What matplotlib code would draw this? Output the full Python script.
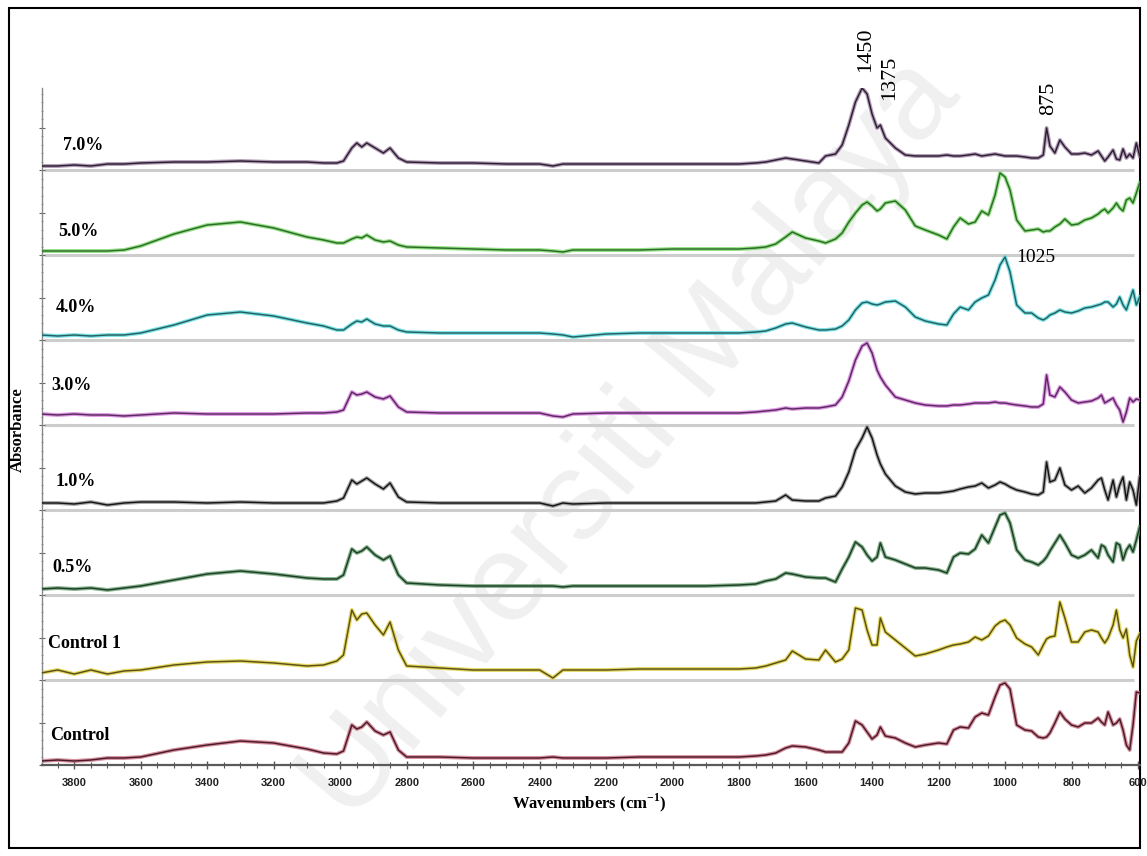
import matplotlib.pyplot as plt
from matplotlib.patches import Rectangle
from matplotlib.ticker import MultipleLocator

plt.rcParams['mathtext.fontset'] = 'custom'
plt.rcParams['mathtext.rm'] = 'Liberation Serif'
plt.rcParams['mathtext.bf'] = 'Liberation Serif:bold'

# FTIR absorbance (a.u.) read on a shared wavenumber grid, cm-1
wavenumber = [3900, 3850, 3800, 3750, 3700, 3650, 3600, 3500, 3400, 3300,
              3200, 3100, 3050, 3010, 2990, 2965, 2950, 2935, 2920, 2895,
              2870, 2850, 2825, 2800, 2700, 2600, 2500, 2400, 2360, 2330,
              2300, 2200, 2100, 2000, 1900, 1800, 1750, 1720, 1690, 1660,
              1640, 1600, 1560, 1540, 1510, 1490, 1470, 1450, 1430, 1415,
              1400, 1385, 1375, 1360, 1330, 1300, 1270, 1240, 1200, 1175,
              1155, 1135, 1110, 1090, 1070, 1050, 1030, 1015, 1000, 985,
              965, 940, 920, 900, 885, 875, 865, 850, 835, 820,
              800, 780, 760, 740, 720, 710, 700, 690, 675, 665,
              655, 645, 635, 625, 615, 605, 595]

control = [4, 5, 4, 5, 7, 7, 8, 15, 20, 24,
           22, 16, 12, 11, 14, 40, 36, 38, 43, 34,
           30, 33, 15, 8, 8, 7, 7, 7, 8, 7,
           7, 7, 8, 8, 8, 8, 9, 10, 12, 17,
           19, 18, 15, 13, 13, 13, 22, 44, 40, 33,
           26, 30, 38, 29, 27, 22, 18, 20, 22, 21,
           35, 38, 37, 48, 52, 50, 68, 80, 82, 76,
           40, 35, 34, 28, 27, 28, 32, 42, 53, 46,
           40, 38, 42, 42, 47, 43, 40, 53, 40, 42,
           46, 35, 20, 15, 40, 73, 72]

control_1 = [7, 10, 6, 10, 6, 9, 10, 15, 18, 19,
             17, 14, 15, 19, 25, 70, 60, 66, 67, 55,
             45, 58, 30, 14, 12, 10, 10, 10, 2, 10,
             10, 10, 11, 11, 11, 11, 12, 14, 17, 20,
             29, 21, 20, 30, 18, 21, 30, 72, 70, 50,
             35, 35, 62, 48, 40, 32, 24, 26, 30, 33,
             35, 36, 38, 43, 40, 44, 54, 58, 60, 55,
             42, 36, 33, 25, 35, 41, 43, 44, 78, 62,
             38, 38, 48, 50, 48, 42, 37, 42, 55, 70,
             50, 42, 51, 25, 13, 39, 46]

pct_0_5 = [6, 7, 6, 7, 5, 7, 9, 15, 21, 24,
           21, 17, 16, 16, 20, 46, 42, 44, 48, 40,
           35, 39, 20, 12, 10, 9, 9, 9, 9, 8,
           9, 9, 9, 9, 9, 10, 11, 14, 16, 22,
           21, 18, 17, 17, 13, 26, 38, 53, 48, 40,
           34, 38, 52, 38, 35, 31, 27, 27, 25, 22,
           38, 42, 41, 46, 60, 52, 68, 80, 82, 72,
           45, 35, 33, 30, 34, 38, 44, 52, 60, 52,
           40, 37, 40, 45, 37, 50, 48, 40, 33, 52,
           50, 35, 45, 50, 43, 55, 68]

pct_1_0 = [7, 7, 6, 8, 5, 7, 8, 8, 7, 8,
           7, 7, 7, 9, 12, 30, 26, 29, 32, 26,
           21, 27, 13, 8, 7, 7, 7, 7, 4, 7,
           6, 7, 7, 7, 7, 7, 7, 8, 9, 15,
           10, 9, 9, 12, 14, 23, 38, 60, 72, 83,
           72, 55, 46, 36, 24, 18, 16, 17, 17, 18,
           19, 21, 23, 24, 27, 22, 25, 28, 26, 23,
           20, 18, 16, 15, 18, 48, 28, 30, 42, 25,
           20, 24, 17, 22, 30, 32, 20, 10, 30, 13,
           25, 33, 10, 28, 20, 5, 33]

pct_3_0 = [11, 10, 11, 10, 10, 9, 10, 12, 11, 11,
           11, 12, 12, 13, 15, 33, 30, 31, 33, 28,
           26, 29, 18, 13, 12, 12, 12, 12, 9, 8,
           11, 12, 12, 12, 12, 12, 13, 14, 15, 17,
           16, 17, 17, 18, 20, 28, 44, 65, 79, 82,
           72, 55, 48, 40, 28, 25, 22, 20, 19, 19,
           20, 20, 21, 22, 22, 22, 23, 22, 22, 21,
           20, 19, 18, 18, 21, 50, 30, 28, 38, 33,
           25, 22, 23, 24, 27, 30, 22, 24, 27, 20,
           15, 3, 13, 27, 23, 26, 25]

pct_4_0 = [5, 4, 5, 4, 5, 5, 7, 15, 25, 28,
           24, 17, 14, 10, 10, 16, 19, 18, 21, 16,
           14, 14, 10, 8, 7, 7, 7, 7, 6, 5,
           3, 6, 7, 7, 7, 7, 8, 9, 12, 16,
           17, 13, 10, 10, 11, 14, 20, 30, 37, 38,
           36, 35, 36, 38, 39, 33, 23, 19, 16, 15,
           26, 33, 30, 38, 42, 45, 60, 75, 83, 68,
           35, 27, 27, 22, 20, 22, 25, 27, 30, 28,
           27, 29, 32, 33, 35, 36, 38, 38, 33, 36,
           43, 35, 30, 40, 50, 35, 43]

pct_5_0 = [4, 4, 4, 4, 4, 5, 9, 21, 30, 33,
           27, 18, 15, 12, 12, 16, 18, 17, 20, 15,
           13, 14, 10, 8, 7, 6, 5, 5, 4, 3,
           5, 5, 5, 6, 6, 6, 7, 8, 11, 18,
           23, 17, 14, 12, 16, 22, 33, 42, 50, 53,
           49, 44, 46, 52, 54, 45, 29, 25, 20, 16,
           28, 37, 31, 33, 44, 40, 60, 82, 78, 65,
           35, 24, 25, 26, 23, 24, 24, 28, 31, 36,
           30, 31, 35, 37, 41, 44, 46, 42, 47, 52,
           47, 44, 55, 57, 52, 62, 72]

pct_7_0 = [4, 4, 5, 4, 6, 6, 7, 8, 8, 9,
           8, 8, 7, 7, 9, 22, 27, 23, 27, 22,
           17, 22, 12, 8, 7, 7, 6, 6, 4, 6,
           6, 6, 6, 6, 6, 6, 7, 8, 10, 12,
           11, 9, 7, 14, 16, 25, 45, 68, 82, 76,
           56, 42, 45, 32, 22, 15, 14, 14, 14, 15,
           14, 14, 15, 16, 14, 15, 16, 15, 14, 14,
           14, 13, 12, 12, 15, 42, 24, 17, 30, 23,
           16, 16, 17, 15, 19, 14, 9, 13, 20, 11,
           10, 21, 12, 16, 12, 27, 14]

# bottom to top
spectra = [control, control_1, pct_0_5, pct_1_0, pct_3_0, pct_4_0, pct_5_0, pct_7_0]
names = ['Control', 'Control 1', '0.5%', '1.0%', '3.0%', '4.0%', '5.0%', '7.0%']
band_labels = ['1450', '1375', '875', '1025']

# dark core line + coloured glow for each trace
core_colors = ['#4a1a28', '#5a5018', '#1e3d26', '#141414',
               '#5a2a5e', '#25605f', '#2e6a2a', '#2a2030']
glow_colors = ['#c86a7e', '#dccc30', '#5f9a68', '#8a8a8a',
               '#d474dc', '#4fd8de', '#6fd65c', '#9a7aa0']
name_x = [3872, 3878, 3866, 3857, 3869, 3857, 3848, 3833]
name_dy = [30, 37, 27, 29, 39, 32, 24, 24]

step = 85
W, H = 1147, 856

fig = plt.figure(figsize=(W / 100, H / 100), dpi=100)
ax = fig.add_axes([42 / W, 91 / H, 1098 / W, 677 / H])
ax.set_zorder(2)
ax.set_facecolor('none')

# faint diagonal watermark behind the plot
fig.text(632 / W, 1 - 440 / H, 'Universiti Malaya', fontsize=90,
         family='Liberation Sans', color='#f0f0f0', rotation=50,
         ha='center', va='center', rotation_mode='anchor', zorder=1)

for k in range(1, len(spectra)):
    ax.hlines(k * step, 3890, 612, color='#cdcdcd', lw=2.2, zorder=1)

for i, vals in enumerate(spectra):
    y = [i * step + v for v in vals]
    ax.plot(wavenumber, y, color=glow_colors[i], lw=2.8, alpha=0.75,
            solid_joinstyle='round', zorder=2)
    ax.plot(wavenumber, y, color=core_colors[i], lw=1.05,
            solid_joinstyle='round', zorder=3)
    ax.text(name_x[i], i * step + name_dy[i], names[i], fontsize=13,
            family='Liberation Serif', weight='bold', ha='left', va='center')

ax.text(1418, 715, band_labels[0], rotation=90, fontsize=16,
        family='Liberation Serif', ha='center', va='center', clip_on=False)
ax.text(1346, 687, band_labels[1], rotation=90, fontsize=16,
        family='Liberation Serif', ha='center', va='center', clip_on=False)
ax.text(868, 667, band_labels[2], rotation=90, fontsize=16,
        family='Liberation Serif', ha='center', va='center', clip_on=False)
ax.text(907, 507, band_labels[3], fontsize=14,
        family='Liberation Serif', ha='center', va='center')

ax.set_xlim(3897, 594)
ax.set_ylim(0, 677)
ax.xaxis.set_major_locator(MultipleLocator(200))
ax.xaxis.set_minor_locator(MultipleLocator(50))
ax.yaxis.set_major_locator(MultipleLocator(42.5))
ax.yaxis.set_minor_locator(MultipleLocator(8.5))
ax.tick_params(axis='x', which='major', direction='inout', length=6,
               width=1, color='#555555', pad=6, labelsize=8)
ax.tick_params(axis='x', which='minor', direction='inout', length=4,
               width=0.8, color='#555555')
ax.tick_params(axis='y', which='major', direction='inout', length=4,
               width=0.8, color='#666666', labelleft=False)
ax.tick_params(axis='y', which='minor', direction='inout', length=2,
               width=0.6, color='#888888')
for lab in ax.get_xticklabels():
    lab.set_fontfamily(['Liberation Sans Narrow', 'Liberation Sans'])
    lab.set_fontweight('bold')
    lab.set_color('#222222')

for side in ['top', 'right']:
    ax.spines[side].set_visible(False)
ax.spines['bottom'].set_color('#5a5a5a')
ax.spines['bottom'].set_linewidth(1.6)
ax.spines['left'].set_color('#888888')
ax.spines['left'].set_linewidth(1.0)

fig.text(18 / W, 1 - 430 / H, 'Absorbance', rotation=90, fontsize=12,
         family='Liberation Serif', weight='bold', ha='center', va='center')
fig.text(589 / W, 1 - 803 / H, 'Wavenumbers (cm$^{\\mathbf{-1}}$)', fontsize=12,
         family='Liberation Serif', weight='bold', ha='center', va='center')

fig.patches.append(Rectangle((9 / W, 8 / H), 1131 / W, 840 / H,
                             transform=fig.transFigure, fill=False,
                             edgecolor='black', lw=1.5))

fig.savefig('out.png', dpi=100)
